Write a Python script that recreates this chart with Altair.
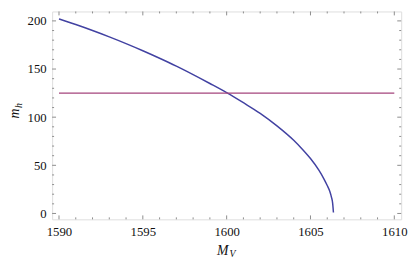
import altair as alt
import pandas as pd

# curve
mv = [1590, 1591, 1592, 1593, 1594, 1595, 1596, 1597, 1598, 1599, 1600,
      1601, 1602, 1603, 1604, 1604.5, 1605, 1605.5, 1605.8, 1606, 1606.15,
      1606.25, 1606.32, 1606.37]
mh = [202, 196.2, 190, 183.4, 176.4, 169, 161.2, 153, 144.2, 135, 125.5,
      115, 104, 91, 76, 67, 57, 45, 36, 29, 23,
      17, 11, 1]

hline_x = [1590, 1610]
hline_y = [125, 125]

x_major = [1590, 1595, 1600, 1605, 1610]
x_minor = [v for v in range(1590, 1611) if v not in x_major]
y_major = [0, 50, 100, 150, 200]
y_minor = [v for v in range(0, 210, 10) if v not in y_major]

W, H = 356, 212
FRAME = "#8c8c8c"
FONT = "Liberation Serif"

xs = alt.Scale(domain=[1589.59, 1610.41], nice=False, zero=False)
ys = alt.Scale(domain=[-6.1, 209.8], nice=False, zero=False)

curve_df = pd.DataFrame({"mv": mv, "mh": mh})
hline_df = pd.DataFrame({"mv": hline_x, "mh": hline_y})

x_axis = alt.Axis(values=x_major, ticks=False, domain=False, grid=False, title=None,
                  labelFont=FONT, labelFontSize=13, labelColor="#111", labelPadding=7, format="d")
y_axis = alt.Axis(values=y_major, ticks=False, domain=False, grid=False, title=None,
                  labelFont=FONT, labelFontSize=13, labelColor="#111", labelPadding=6, format="d")

curve = alt.Chart(curve_df).mark_line(color="#4242a2", strokeWidth=1.5, clip=True,
                                      interpolate="monotone").encode(
    x=alt.X("mv:Q", scale=xs, axis=x_axis),
    y=alt.Y("mh:Q", scale=ys, axis=y_axis),
    order="mv:Q",
)
hline = alt.Chart(hline_df).mark_line(color="#a4457d", strokeWidth=1.5).encode(
    x=alt.X("mv:Q", scale=xs), y=alt.Y("mh:Q", scale=ys)
)

def xticks(vals, length):
    df = pd.DataFrame({"t": vals})
    bottom = alt.Chart(df).mark_rule(color=FRAME, strokeWidth=1).encode(
        x=alt.X("t:Q", scale=xs), y=alt.value(H), y2=alt.value(H - length))
    top = alt.Chart(df).mark_rule(color=FRAME, strokeWidth=1).encode(
        x=alt.X("t:Q", scale=xs), y=alt.value(0), y2=alt.value(length))
    return [bottom, top]

def yticks(vals, length):
    df = pd.DataFrame({"t": vals})
    left = alt.Chart(df).mark_rule(color=FRAME, strokeWidth=1).encode(
        y=alt.Y("t:Q", scale=ys), x=alt.value(0), x2=alt.value(length))
    right = alt.Chart(df).mark_rule(color=FRAME, strokeWidth=1).encode(
        y=alt.Y("t:Q", scale=ys), x=alt.value(W), x2=alt.value(W - length))
    return [left, right]

one = pd.DataFrame({"a": [0]})

def label(txt, x, y, size, angle=0):
    return alt.Chart(one).mark_text(text=txt, font=FONT, fontStyle="italic", fontSize=size,
                                    color="#111", angle=angle, align="center",
                                    baseline="middle").encode(x=alt.value(x), y=alt.value(y))

titles = [
    label("M", 174, 244, 14),
    label("V", 184, 247, 10),
    label("m", -38, 104, 14, 270),
    label("h", -34, 96, 10, 270),
]

layers = [curve, hline] + xticks(x_major, 4) + xticks(x_minor, 2) + yticks(y_major, 4) + yticks(y_minor, 2) + titles

chart = alt.layer(*layers).properties(
    width=W, height=H,
    autosize=alt.AutoSizeParams(type="none"),
    padding={"left": 45, "top": 1, "right": 9, "bottom": 42},
).configure_view(stroke=FRAME, strokeWidth=1).configure(background="white")

chart.save("out.html", embed_options={"renderer": "svg", "actions": False})
